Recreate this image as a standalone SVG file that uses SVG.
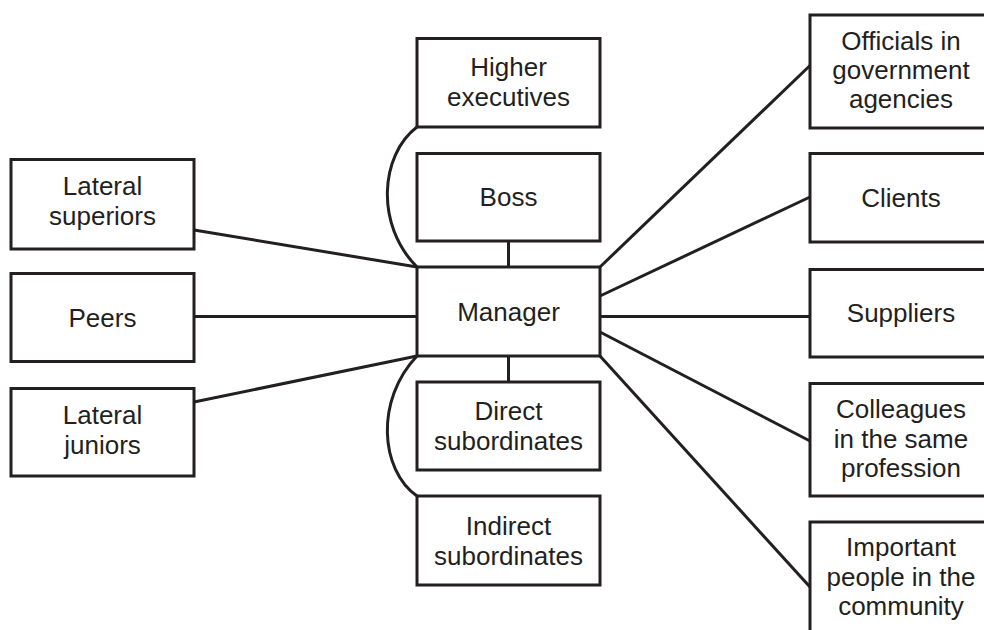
<svg xmlns="http://www.w3.org/2000/svg" width="984" height="630" viewBox="0 0 984 630">
<style>
.box{fill:#fff;stroke:#231f20;stroke-width:3}
.ln{fill:none;stroke:#231f20;stroke-width:3}
text{font-family:"Liberation Sans",Arial,sans-serif;font-size:26px;fill:#231f20;text-anchor:middle}
</style>
<rect width="984" height="630" fill="#fff"/>
<g id="connectors">
<path class="ln" d="M417,127 C380,155 375,225 417,267"/>
<path class="ln" d="M417,356 C375,400 380,470 417,496"/>
<line class="ln" x1="508.5" y1="241" x2="508.5" y2="267"/>
<line class="ln" x1="508.5" y1="356" x2="508.5" y2="382"/>
<line class="ln" x1="194" y1="230" x2="417" y2="267"/>
<line class="ln" x1="194" y1="316.5" x2="417" y2="316.5"/>
<line class="ln" x1="194" y1="402" x2="417" y2="356"/>
<line class="ln" x1="600" y1="267" x2="810" y2="65.5"/>
<line class="ln" x1="600" y1="296" x2="810" y2="197"/>
<line class="ln" x1="600" y1="316.5" x2="810" y2="316.5"/>
<line class="ln" x1="600" y1="332" x2="810" y2="441"/>
<line class="ln" x1="600" y1="356" x2="810" y2="587"/>
</g>
<g id="higher"><rect class="box" x="417" y="38.5" width="183" height="88.5"/><text x="508.5" y="76">Higher</text><text x="508.5" y="106">executives</text></g>
<g id="boss"><rect class="box" x="417" y="153.5" width="183" height="87.5"/><text x="508.5" y="206">Boss</text></g>
<g id="manager"><rect class="box" x="417" y="267" width="183" height="89"/><text x="508.5" y="320.5">Manager</text></g>
<g id="direct"><rect class="box" x="417" y="382" width="183" height="88"/><text x="508.5" y="420">Direct</text><text x="508.5" y="450">subordinates</text></g>
<g id="indirect"><rect class="box" x="417" y="496" width="183" height="89"/><text x="508.5" y="534.5">Indirect</text><text x="508.5" y="564.5">subordinates</text></g>
<g id="latsup"><rect class="box" x="11" y="159.5" width="183" height="89.5"/><text x="102.5" y="195">Lateral</text><text x="102.5" y="225">superiors</text></g>
<g id="peers"><rect class="box" x="11" y="273.5" width="183" height="88"/><text x="102.5" y="326.5">Peers</text></g>
<g id="latjun"><rect class="box" x="11" y="388.5" width="183" height="87.5"/><text x="102.5" y="424">Lateral</text><text x="102.5" y="454">juniors</text></g>
<g id="officials"><rect class="box" x="810" y="15" width="190" height="113"/><text x="901" y="49.5">Officials in</text><text x="901" y="78.5">government</text><text x="901" y="107.5">agencies</text></g>
<g id="clients"><rect class="box" x="810" y="153.5" width="190" height="88.5"/><text x="901" y="207">Clients</text></g>
<g id="suppliers"><rect class="box" x="810" y="269.5" width="190" height="87.5"/><text x="901" y="322">Suppliers</text></g>
<g id="colleagues"><rect class="box" x="810" y="383.5" width="190" height="112.5"/><text x="901" y="418">Colleagues</text><text x="901" y="447.5">in the same</text><text x="901" y="477">profession</text></g>
<g id="important"><rect class="box" x="810" y="522" width="190" height="120"/><text x="901" y="556">Important</text><text x="901" y="585.5">people in the</text><text x="901" y="615">community</text></g>
</svg>
